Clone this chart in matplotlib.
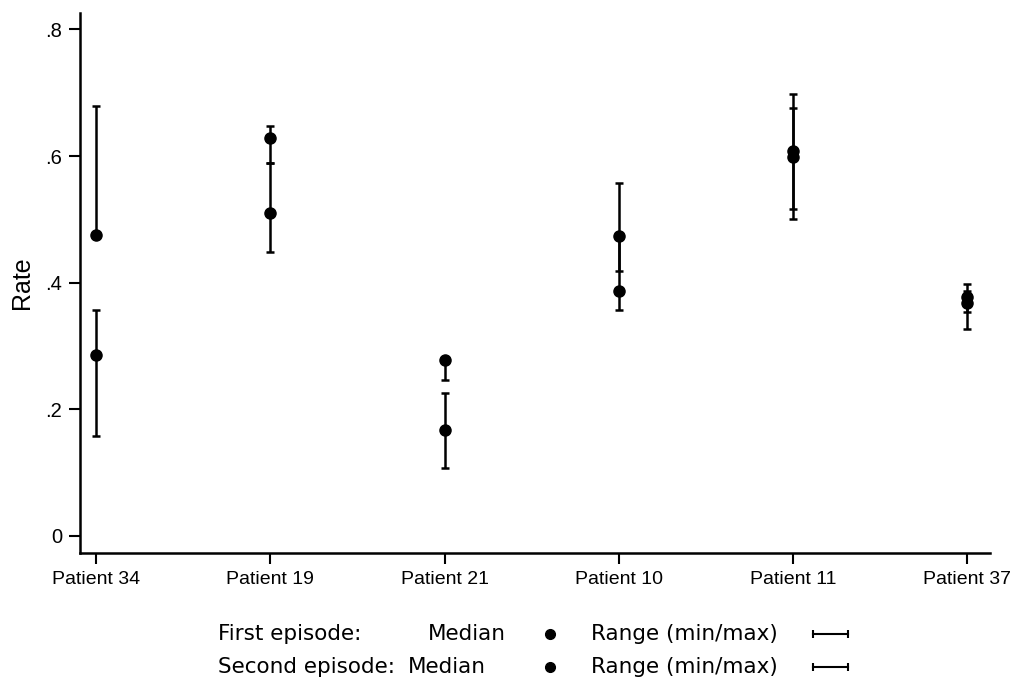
import matplotlib.pyplot as plt
from matplotlib.lines import Line2D

plt.rcParams['font.family'] = ['Liberation Sans', 'DejaVu Sans']

patients = ["Patient 34", "Patient 19", "Patient 21", "Patient 10", "Patient 11", "Patient 37"]

first_median = [0.285, 0.51, 0.168, 0.387, 0.598, 0.368]
first_min = [0.158, 0.449, 0.108, 0.357, 0.500, 0.327]
first_max = [0.357, 0.589, 0.226, 0.47, 0.676, 0.387]

second_median = [0.475, 0.628, 0.278, 0.474, 0.608, 0.377]
second_min = [0.475, 0.589, 0.247, 0.419, 0.516, 0.354]
second_max = [0.679, 0.648, 0.278, 0.558, 0.698, 0.398]

y_ticks = [0, 0.2, 0.4, 0.6, 0.8]
y_tick_labels = ["0", ".2", ".4", ".6", ".8"]

W, H = 1020, 687
fig = plt.figure(figsize=(W / 100, H / 100), dpi=100)
ax = fig.add_axes([80 / W, 1 - 553 / H, 910 / W, 540 / H])

xs = list(range(len(patients)))

for med, lo, hi in [(first_median, first_min, first_max),
                    (second_median, second_min, second_max)]:
    err = [[m - l for m, l in zip(med, lo)], [h - m for m, h in zip(med, hi)]]
    ax.errorbar(xs, med, yerr=err, fmt='o', color='black', ms=8,
                elinewidth=1.8, capsize=3, capthick=1.8)

ax.set_xlim(-0.092, 5.13)
ax.set_ylim(-0.027, 0.826)
ax.set_xticks(xs)
ax.set_xticklabels(patients, fontsize=14)
ax.set_yticks(y_ticks)
ax.set_yticklabels(y_tick_labels, fontsize=14.5)
ax.set_ylabel("Rate", fontsize=18, labelpad=8)

for side in ['top', 'right']:
    ax.spines[side].set_visible(False)
for side in ['left', 'bottom']:
    ax.spines[side].set_linewidth(1.8)
ax.tick_params(length=8, width=1.5, pad=5, direction='out')

# legend underneath, written out by hand like the original
def ftext(x, y, s):
    fig.text(x / W, 1 - y / H, s, fontsize=15.5, ha='left', va='baseline',
             family='DejaVu Sans')

ftext(218, 640, "First episode:")
ftext(428, 640, "Median")
ftext(591, 640, "Range (min/max)")
ftext(218, 673, "Second episode:")
ftext(408, 673, "Median")
ftext(591, 673, "Range (min/max)")

for y in [634, 667]:
    fig.add_artist(Line2D([550 / W], [1 - y / H], marker='o', color='black',
                          ms=7, transform=fig.transFigure))
    fig.add_artist(Line2D([813 / W, 848 / W], [1 - y / H, 1 - y / H],
                          color='black', lw=1.5, marker='|', ms=6, mew=1.5,
                          transform=fig.transFigure))

fig.savefig("out.png", dpi=100)
